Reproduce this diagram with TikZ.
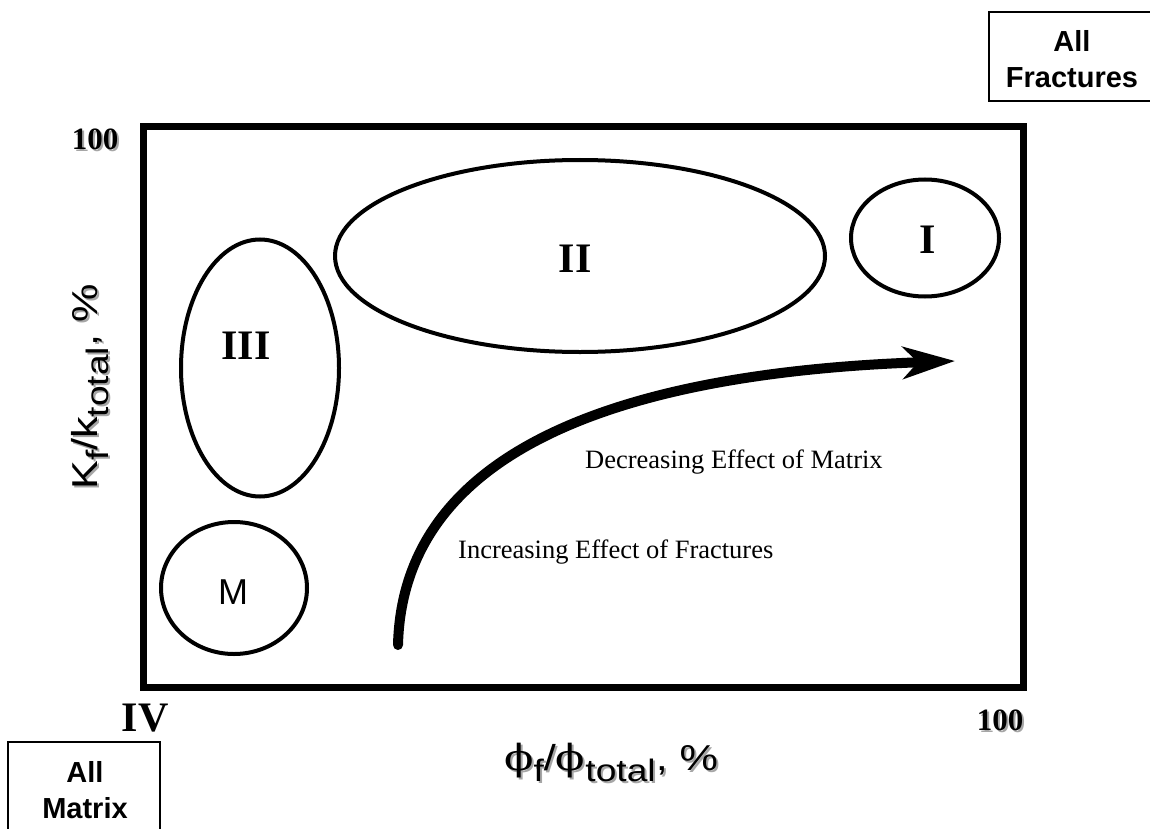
\documentclass[tikz,border=0pt]{standalone}
\usepackage{fontspec}
\setmainfont{Liberation Serif}
\newfontfamily\arial{Liberation Sans}
\newfontfamily\phifont{DejaVu Serif}
\usetikzlibrary{shapes.geometric,arrows.meta,calc}
\tikzset{
  frame/.style={draw, line width=7pt, line join=miter},
  region/.style={draw, ellipse, line width=4pt, inner sep=0pt},
  roman/.style={font=\fontsize{42}{42}\selectfont\bfseries, inner sep=0pt},
  pct/.style={font=\fontsize{31}{31}\selectfont\bfseries, inner sep=0pt},
  shade/.style={text=black!35},
  boxline/.style={draw, line width=2pt},
  boxtext/.style={font=\arial\fontsize{29}{36}\selectfont\bfseries, align=center, inner sep=0pt},
  note/.style={font=\fontsize{26.5}{26.5}\selectfont, inner sep=0pt, anchor=west},
  axis/.style={inner sep=0pt, anchor=base west},
  bigarrow/.style={line width=10pt, line cap=round, -{Stealth[length=52pt,width=32pt,inset=15pt]}}
}
\newcommand{\axlab}[1]{\scalebox{1.2}[1]{\arial\fontsize{36}{36}\selectfont #1}}
\newcommand{\sbs}[1]{\raisebox{-11pt}{\fontsize{31}{31}\selectfont #1}}
\begin{document}
\begin{tikzpicture}[x=1pt,y=-1pt]
\useasboundingbox (0,0) rectangle (1150,829);
% main frame
\node[frame, minimum width=880.5pt, minimum height=560pt, inner sep=0pt, anchor=north west] (plot) at (139.5,123.5) {};
% corner boxes
\coordinate (af1) at (1150,12);
\coordinate (af2) at (989,12);
\coordinate (af3) at (989,101);
\coordinate (af4) at (1150,101);
\draw[boxline] (af1) -- (af2) -- (af3) -- (af4);
\node[boxtext] (allfrac) at (1072,59) {All\\Fractures};
\coordinate (am1) at (8,829);
\coordinate (am2) at (8,742);
\coordinate (am3) at (160,742);
\coordinate (am4) at (160,829);
\draw[boxline] (am1) -- (am2) -- (am3) -- (am4);
\node[boxtext] (allmat) at (85,790) {All\\Matrix};
% corner numbers
\node[pct, shade] (p1s) at (97,141) {100};
\node[pct] (p1) at (95,139) {100};
\node[pct, shade] (p2s) at (1002,722) {100};
\node[pct] (p2) at (1000,720) {100};
\node[roman] (iv) at (145,718) {IV};
% regions
\node[region, minimum width=490pt, minimum height=192pt] (e2) at (580,256) {};
\node[region, minimum width=148pt, minimum height=117pt] (e1) at (925,238) {};
\node[region, minimum width=158pt, minimum height=257pt] (e3) at (260,368) {};
\node[region, minimum width=146pt, minimum height=132pt] (em) at (234,588) {};
\node[roman] (l2) at (575,259) {II};
\node[roman] (l1) at (928,240) {I};
\node[roman] (l3) at (246,346) {III};
\node[inner sep=0pt, font=\arial\fontsize{36}{36}\selectfont] (lm) at (233,592) {M};
% arrow
\coordinate (as) at (398,645);
\coordinate (ae) at (955,361);
\draw[bigarrow] (as) .. controls (402,480) and (560,375) .. (ae);
\node[note] (t1) at (585,462) {Decreasing Effect of Matrix};
\node[note] (t2) at (458,552) {Increasing Effect of Fractures};
% axis labels
\node[axis, shade] (xls) at (506,772) {\axlab{{\phifont ϕ}\sbs{f}/{\phifont ϕ}\sbs{total}, \%}};
\node[axis] (xl) at (504,770) {\axlab{{\phifont ϕ}\sbs{f}/{\phifont ϕ}\sbs{total}, \%}};
\node[axis, shade, rotate=90] (yls) at (99,492) {\axlab{K\sbs{f}/k\sbs{total}, \%}};
\node[axis, rotate=90] (yl) at (97,490) {\axlab{K\sbs{f}/k\sbs{total}, \%}};
\end{tikzpicture}
\end{document}
